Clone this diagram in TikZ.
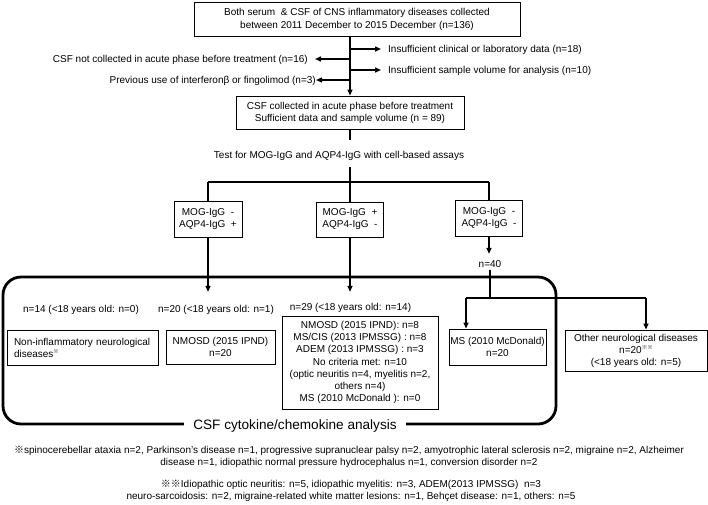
\documentclass[tikz,border=0pt]{standalone}
\usepackage{fontspec}
\setmainfont{Liberation Sans}
\newfontfamily\cjk{Noto Sans CJK JP}
\usetikzlibrary{arrows.meta}
\newcommand{\refm}{{\cjk ※}}
\newcommand{\supm}[1]{\raisebox{3.4pt}{\cjk\fontsize{5.5}{5.5}\selectfont #1}}
\begin{document}
\begin{tikzpicture}[x=1pt,y=-1pt,
  box/.style={draw, line width=0.9pt, inner sep=0pt, align=center, font=\fontsize{10}{12}\selectfont},
  lbl/.style={inner sep=0pt, font=\fontsize{10}{12}\selectfont, text height=7pt, text depth=0pt},
  conn/.style={line width=1.4pt},
  arr/.style={conn, -{Triangle[length=6pt,width=5pt]}},
  frame/.style={line width=2.8pt, rounded corners=18pt},
  fnote/.style={align=center, inner sep=0pt, font=\fontsize{10}{12}\selectfont}
]
\useasboundingbox (0,0) rectangle (708,504);

% top part
\node[box, minimum width=326pt, minimum height=34pt, font=\fontsize{10}{13}\selectfont] (top) at (357,19)
  {Both serum \ \& CSF of CNS inflammatory diseases collected\\between 2011 December to 2015 December (n=136)};
\node[box, minimum width=228pt, minimum height=33pt] (b2) at (350,112.5)
  {CSF collected in acute phase before treatment\\Sufficient data and sample volume (n = 89)};
\draw[arr] (top.south -| b2.north) -- (b2.north);

\coordinate (c1) at (350,49);
\coordinate (c2) at (350,70);
\coordinate (c3) at (350,59);
\coordinate (c4) at (350,80);
\node[lbl, anchor=west] (r1) at (388,49) {Insufficient clinical or laboratory data (n=18)};
\node[lbl, anchor=west] (r2) at (388,70) {Insufficient sample volume for analysis (n=10)};
\node[lbl, anchor=east] (l1) at (308,59) {CSF not collected in acute phase before treatment (n=16)};
\node[lbl, anchor=east] (l2) at (316,80) {Previous use of interferonβ or fingolimod (n=3)};
\draw[arr, shorten >=7pt] (c1) -- (r1.west);
\draw[arr, shorten >=7pt] (c2) -- (r2.west);
\draw[arr, shorten >=7pt] (c3) -- (l1.east);
\draw[arr] (c4) -- (l2.east);

% test
\node[lbl] (test) at (339,155) {Test for MOG-IgG and AQP4-IgG with cell-based assays};
\coordinate (t1) at (350,140);
\coordinate (t2) at (350,167);
\coordinate (bar) at (350,182);
\draw[conn] (b2.south) -- (t1);
\draw[conn] (t2) -- (bar);

\node[box, minimum width=68pt, minimum height=36pt] (m1) at (208,219) {MOG-IgG~~-\\AQP4-IgG~~+};
\node[box, minimum width=67pt, minimum height=35pt] (m2) at (350,219.5) {MOG-IgG~~+\\AQP4-IgG~~-};
\node[box, minimum width=67pt, minimum height=36pt] (m3) at (489,218) {MOG-IgG~~-\\AQP4-IgG~~-};
\draw[conn] (m1.north |- bar) -- (m3.north |- bar);
\draw[conn] (m1.north |- bar) -- (m1.north);
\draw[conn] (m2.north |- bar) -- (m2.north);
\draw[conn] (m3.north |- bar) -- (m3.north);

% big frame
\draw[frame] (3,277) rectangle (556,424);
\node[fill=white, inner xsep=9pt, inner ysep=2pt, text height=10pt, text depth=0pt,
  font=\fontsize{13.6}{16}\selectfont] (csf) at (295,424) {CSF cytokine/chemokine analysis};

\node[lbl] (n14) at (81,309) {n=14 (<18 years old: n=0)};
\node[lbl] (n20) at (216,309) {n=20 (<18 years old: n=1)};
\node[lbl] (n29) at (350.5,307) {n=29 (<18 years old: n=14)};
\draw[arr, shorten >=13.5pt] (m1.south) -- (m1.south |- n20.north);
\draw[arr, shorten >=11.5pt] (m2.south) -- (m2.south |- n29.north);

\node[lbl] (n40) at (490,264) {n=40};
\draw[arr, shorten >=6.5pt] (m3.south) -- (m3.south |- n40.north);
\coordinate (bar2) at (490,298);
\coordinate (d1) at (466,298);
\coordinate (d2) at (646,298);
\draw[conn, shorten <=2pt] (n40.south) -- (bar2);
\draw[conn] (d1) -- (d2);

\node[box, minimum width=151pt, minimum height=35pt, text width=137pt, align=left] (nonin) at (82.5,347.5)
  {Non-inflammatory neurological\\diseases\supm{※}};
\node[box, minimum width=109pt, minimum height=34pt] (nmosd) at (220.5,347) {NMOSD (2015 IPND)\\n=20};
\node[box, minimum width=156pt, minimum height=93pt, font=\fontsize{10}{12.2}\selectfont] (mid) at (360,362.5)
  {NMOSD (2015 IPND): n=8\\MS/CIS (2013 IPMSSG) : n=8\\ADEM (2013 IPMSSG) : n=3\\No criteria met: n=10\\(optic neuritis n=4, myelitis n=2,\\others n=4)\\MS (2010 McDonald ): n=0};
\node[box, minimum width=97pt, minimum height=36pt] (ms) at (497.5,347) {MS (2010 McDonald)\\n=20};
\node[box, minimum width=142pt, minimum height=41pt] (oth) at (636,350.5)
  {Other neurological diseases\\n=20\supm{※※}\\(<18 years old: n=5)};
\draw[arr] (d1) -- (d1 |- ms.north);
\draw[arr] (d2) -- (d2 |- oth.north);

% footnotes
\node[fnote] (fn1) at (349,457)
  {\refm spinocerebellar ataxia n=2, Parkinson’s disease n=1, progressive supranuclear palsy n=2, amyotrophic lateral sclerosis n=2, migraine n=2, Alzheimer\\disease n=1, idiopathic normal pressure hydrocephalus n=1, conversion disorder n=2};
\node[fnote] (fn2) at (351,491)
  {\refm\refm Idiopathic optic neuritis: n=5, idiopathic myelitis: n=3, ADEM(2013 IPMSSG)\ \ n=3\\neuro-sarcoidosis: n=2, migraine-related white matter lesions: n=1, Behçet disease: n=1, others: n=5};
\end{tikzpicture}
\end{document}
